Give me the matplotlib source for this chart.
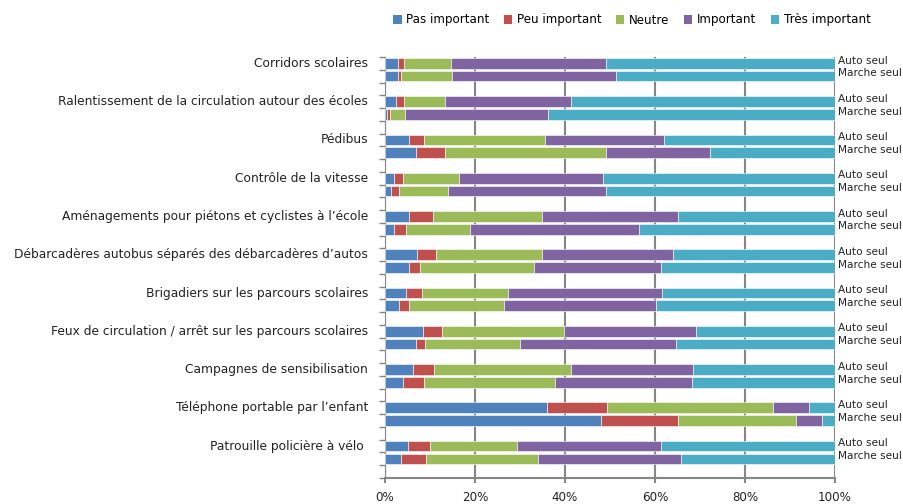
import matplotlib
matplotlib.use("Agg")
import matplotlib.pyplot as plt
from matplotlib.patches import Patch
from matplotlib.ticker import FuncFormatter

# mesures (en %), ordre : haut -> bas
mesures = ["Corridors scolaires",
           "Ralentissement de la circulation autour des écoles",
           "Pédibus",
           "Contrôle de la vitesse",
           "Aménagements pour piétons et cyclistes à l’école",
           "Débarcadères autobus séparés des débarcadères d’autos",
           "Brigadiers sur les parcours scolaires",
           "Feux de circulation / arrêt sur les parcours scolaires",
           "Campagnes de sensibilisation",
           "Téléphone portable par l’enfant",
           "Patrouille policière à vélo "]
groupes = ["Auto seul", "Marche seul"]
niveaux = ["Pas important", "Peu important", "Neutre", "Important", "Très important"]
couleurs = ["#4F81BD", "#C0504D", "#9BBB59", "#8064A2", "#4BACC6"]

# une ligne par mesure : [pas, peu, neutre, important, très important]
auto_seul = [
    [2.9, 1.3, 10.5, 34.3, 51.0],
    [2.4, 1.9, 9.0, 28.0, 58.7],
    [5.4, 3.3, 26.8, 26.4, 38.1],
    [2.1, 1.9, 12.4, 32.0, 51.6],
    [5.4, 5.3, 24.2, 30.1, 35.0],
    [7.2, 4.1, 23.6, 29.1, 36.0],
    [4.7, 3.5, 19.1, 34.3, 38.4],
    [8.4, 4.3, 27.0, 29.3, 31.0],
    [6.3, 4.6, 30.4, 27.2, 31.5],
    [36.1, 13.3, 36.9, 7.9, 5.8],
    [5.1, 4.9, 19.3, 32.0, 38.7],
]
marche_seul = [
    [2.9, 0.7, 11.3, 36.4, 48.7],
    [0.5, 0.6, 3.3, 31.9, 63.7],
    [6.9, 6.4, 35.7, 23.2, 27.8],
    [1.4, 1.8, 10.7, 35.2, 50.9],
    [2.1, 2.6, 14.2, 37.5, 43.6],
    [5.3, 2.5, 25.2, 28.4, 38.6],
    [3.2, 2.2, 21.0, 33.9, 39.7],
    [6.9, 2.0, 21.0, 34.7, 35.4],
    [4.1, 4.6, 29.0, 30.6, 31.7],
    [48.0, 17.1, 26.2, 5.9, 2.8],
    [3.6, 5.5, 24.8, 31.9, 34.2],
]

plt.rcParams['font.family'] = ['DejaVu Sans']
fig = plt.figure(figsize=(9.04, 5.04), dpi=100)
ax = fig.add_axes([385/904, 26/504, 450/904, 421/504])

nrows = len(mesures) * 3
for g, m in enumerate(mesures):
    for k, vals in enumerate([auto_seul[g], marche_seul[g]]):
        y = 3*g + k + 0.5
        left = 0
        for j, v in enumerate(vals):
            ax.barh(y, v, left=left, height=0.84, color=couleurs[j],
                    edgecolor='white', linewidth=0.4, zorder=3)
            left += v
        ax.text(100.6, y - 0.22, groupes[k], ha='left', va='center',
                fontsize=7.6, color='#222222', clip_on=False)
    ax.text(-3.8, 3*g + 0.5, m, ha='right', va='center', fontsize=8.8,
            color='#222222')

ax.set_xlim(0, 100)
ax.set_ylim(nrows, 0)
ax.set_xticks([0, 20, 40, 60, 80, 100])
ax.xaxis.set_major_formatter(FuncFormatter(lambda v, p: '%d%%' % v))
ax.set_yticks(range(nrows + 1))
ax.set_yticklabels([])
ax.tick_params(axis='y', length=4, color='#868686', width=1)
ax.tick_params(axis='x', length=3.5, color='#868686', width=1.5,
               labelsize=8.6, labelcolor='#222222', pad=6)
ax.grid(axis='x', color='#868686', linewidth=1.5, zorder=0)
ax.set_axisbelow(True)
for s in ['top', 'right']:
    ax.spines[s].set_visible(False)
ax.spines['left'].set_color('#868686')
ax.spines['bottom'].set_color('#868686')
ax.spines['bottom'].set_linewidth(1.5)

handles = [Patch(facecolor=c, edgecolor='none', label=n) for c, n in zip(couleurs, niveaux)]
fig.legend(handles=handles, loc='center', bbox_to_anchor=(632/904, 1 - 20/504),
           ncol=5, frameon=False, fontsize=8.6, handlelength=0.7, handleheight=0.7,
           handletextpad=0.4, columnspacing=1.2)

fig.savefig("out.png", dpi=100)
